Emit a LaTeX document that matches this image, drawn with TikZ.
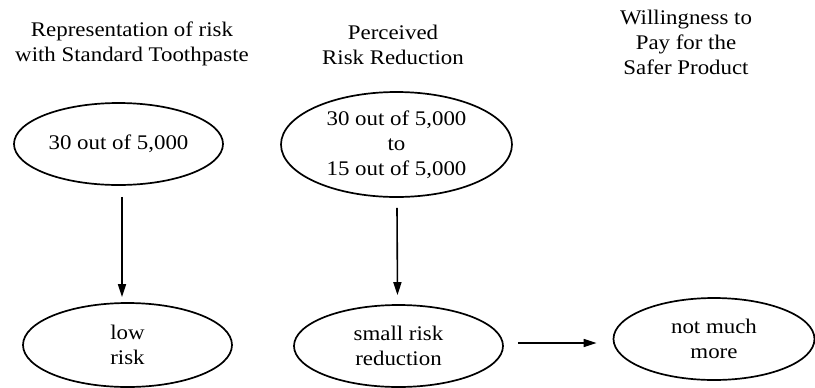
\documentclass[tikz,border=0pt]{standalone}
\usepackage{fontspec}
\setmainfont{Liberation Serif}[FakeStretch=1.1]
\usetikzlibrary{shapes.geometric,arrows.meta}

\begin{document}
\begin{tikzpicture}[x=0.5pt, y=-0.5pt,
    txt/.style={align=center, inner sep=0pt, font=\fontsize{10.4pt}{12.5pt}\selectfont},
    oval/.style={ellipse, draw, line width=0.85pt, txt},
    arrow/.style={->, >={Triangle[length=6.5pt,width=4pt]}, line width=0.8pt}
  ]
  \useasboundingbox (0,0) rectangle (815,387);

  % column headings
  \node[txt] (head1) at (132,44) {Representation of risk\\with Standard Toothpaste};
  \node[txt] (head2) at (393,45) {Perceived\\Risk Reduction};
  \node[txt] (head3) at (686,42) {Willingness to\\Pay for the\\Safer Product};

  \node[oval, minimum width=104.5pt, minimum height=41pt] (base) at (118.5,144) {30 out of 5,000};
  \node[oval, minimum width=115.5pt, minimum height=52.5pt] (range) at (396.5,144.5) {30 out of 5,000\\to\\15 out of 5,000};
  \node[oval, minimum width=104.5pt, minimum height=42pt] (low) at (127.5,345) {low\\risk};
  \node[oval, minimum width=104.5pt, minimum height=41pt] (small) at (398.5,346) {small risk\\reduction};
  \node[oval, minimum width=100.5pt, minimum height=41pt] (more) at (714,339) {not much\\more};

  \draw[arrow] ([xshift=1.75pt,yshift=-5.5pt]base.south) -- ([xshift=-2.75pt,yshift=2.5pt]low.north);
  \draw[arrow] ([xshift=0.25pt,yshift=-5pt]range.south) -- ([xshift=-0.5pt,yshift=4.5pt]small.north);
  \draw[arrow] ([xshift=7pt,yshift=1.5pt]small.east) -- ([xshift=-8pt,yshift=-2pt]more.west);

\end{tikzpicture}
\end{document}
